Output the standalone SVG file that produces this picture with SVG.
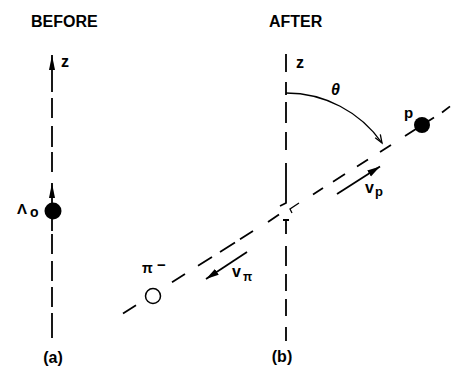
<svg xmlns="http://www.w3.org/2000/svg" width="456" height="368" viewBox="0 0 456 368">
<defs>
<style>
.ln{stroke:#000;stroke-width:1.8;fill:none;stroke-linecap:butt}
.thin{stroke:#000;stroke-width:1.3;fill:none}
.t{font-family:"Liberation Sans",Arial,sans-serif;font-weight:bold;fill:#000}
</style>
<marker id="ah" markerUnits="userSpaceOnUse" markerWidth="14" markerHeight="8" refX="13" refY="3.5" orient="auto">
<path d="M0,0 L13,3.5 L0,7 z" fill="#000"/>
</marker>
<marker id="az" markerUnits="userSpaceOnUse" markerWidth="16" markerHeight="8" refX="15" refY="3" orient="auto">
<path d="M0,0 L15,3 L0,6 z" fill="#000"/>
</marker>
</defs>
<rect width="456" height="368" fill="#fff"/>

<g id="before">
<text class="t" x="31" y="27" font-size="16">BEFORE</text>
<g id="before-axis">
<line class="ln" x1="52" y1="92" x2="52" y2="55" marker-end="url(#az)"/>
<path class="ln" d="M52,98V118M52,126V147M52,152V172M52,219V231M52,234V254M52,261V281M52,287V307M52,313V338"/>
<text class="t" x="61" y="67" font-size="16">z</text>
</g>
<g id="lambda">
<line class="ln" x1="52" y1="204" x2="52" y2="183" marker-end="url(#az)"/>
<circle cx="53" cy="211" r="8.5" fill="#000"/>
<text class="t" x="17" y="214" font-size="15">Λ<tspan x="30" y="217" font-size="14">o</tspan></text>
</g>
<text class="t" x="53" y="363" font-size="16" text-anchor="middle">(a)</text>
</g>

<g id="after">
<text class="t" x="269" y="27" font-size="16">AFTER</text>
<g id="after-axis">
<path class="ln" d="M286,54V72M286,82V95M286,102V123M286,132V150M286,163V203L280,206M286,219V234M283,220H289M286,246V266M286,274V291M286,299V316M286,327V341"/>
<text class="t" x="296" y="68" font-size="16">z</text>
</g>
<g id="decay-point">
<path class="thin" d="M299,203L290,209L292,213"/>
</g>
<g id="decay-line">
<path class="ln" d="M123,313.4L136,305.2M172,282.3L185,274.1M198,265.8L212,257M220,251.9L235,242.4M240,239.2L253,230.9M268,222L279,214.4M313,194.4L323,188M333,181.7L345,174.1M357,166.5L368,159.5M380,151.9L391,144.9M405,136L434,117.6M442,112.5L450,106.4"/>
</g>
<g id="theta">
<path class="thin" d="M286,93A117,117 0 0 1 382,143"/>
<path class="thin" d="M380.3,134.4L382,143L375.2,137.8"/>
<text class="t" x="331" y="95" font-size="16" font-style="italic">θ</text>
</g>
<g id="proton">
<circle cx="422" cy="125" r="8" fill="#000"/>
<text class="t" x="404" y="118" font-size="15">p</text>
</g>
<g id="pion">
<circle cx="153" cy="296" r="7.5" fill="#fff" stroke="#000" stroke-width="1.5"/>
<text class="t" x="142" y="273" font-size="14">π<tspan x="157" y="270" font-size="15">−</tspan></text>
</g>
<g id="connectors">
<line class="ln" x1="337" y1="194" x2="380" y2="166.5" marker-end="url(#ah)"/>
<line class="ln" x1="247" y1="252" x2="206" y2="279" marker-end="url(#ah)"/>
</g>
<text class="t" x="365" y="193" font-size="16">v<tspan x="375" y="196" font-size="13">p</tspan></text>
<text class="t" x="232" y="277" font-size="16">v<tspan x="243" y="281" font-size="12">π</tspan></text>
<text class="t" x="282" y="362" font-size="16" text-anchor="middle">(b)</text>
</g>
</svg>
